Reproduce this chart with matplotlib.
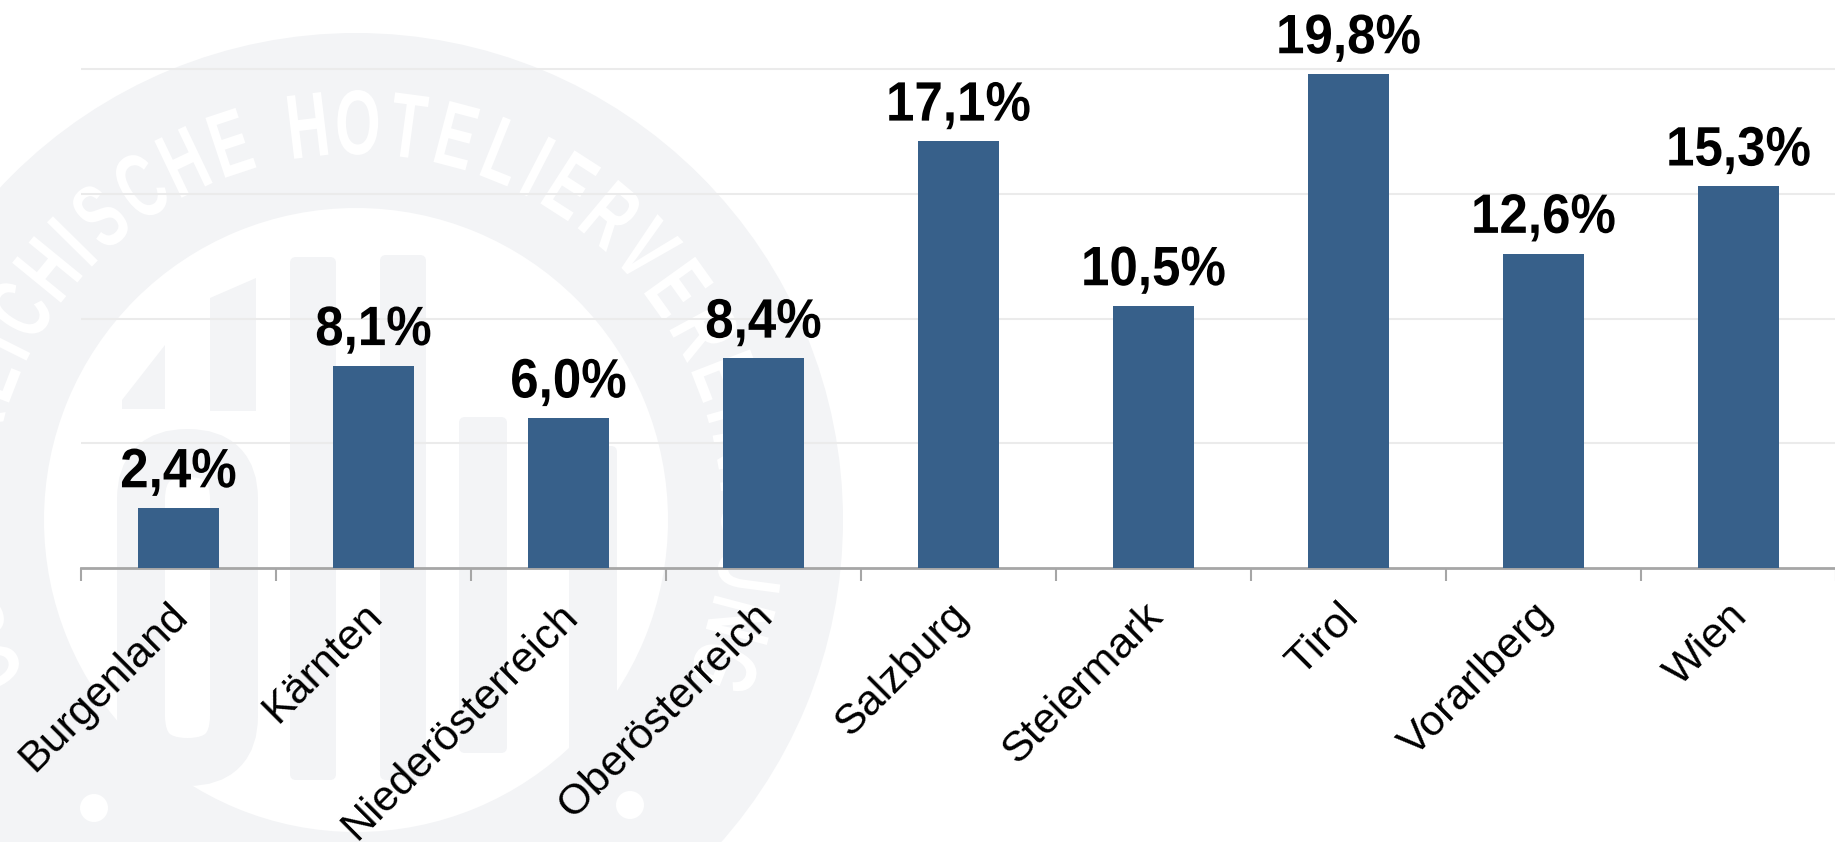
import numpy as np
import matplotlib.pyplot as plt
from matplotlib.patches import Wedge, Circle, Polygon, FancyBboxPatch
from matplotlib.patheffects import AbstractPathEffect
import matplotlib.transforms as mtransforms

# Daten
regionen = ['Burgenland', 'Kärnten', 'Niederösterreich', 'Oberösterreich',
            'Salzburg', 'Steiermark', 'Tirol', 'Vorarlberg', 'Wien']
anteile = [2.4, 8.1, 6.0, 8.4, 17.1, 10.5, 19.8, 12.6, 15.3]

ring_text = 'ÖSTERREICHISCHE HOTELIERVEREINIGUNG'


class Schmal(AbstractPathEffect):
    """Schrift horizontal stauchen (schmale Schrift nachbilden)."""
    def __init__(self, sx):
        super().__init__()
        self.sx = sx

    def draw_path(self, renderer, gc, tpath, affine, rgbFace=None):
        v = tpath.vertices
        if len(v) == 0:
            return
        c = (v[:, 0].min() + v[:, 0].max()) / 2
        squeeze = mtransforms.Affine2D().translate(-c, 0).scale(self.sx, 1).translate(c, 0)
        renderer.draw_path(gc, tpath, squeeze + affine, rgbFace)


plt.rcParams['font.family'] = ['Liberation Sans', 'DejaVu Sans']

W, H = 1835, 842
fig = plt.figure(figsize=(W / 100, H / 100), dpi=100)

# Hintergrund-Wasserzeichen (Pixelkoordinaten)
bg = fig.add_axes([0, 0, 1, 1], zorder=0)
bg.set_xlim(0, W)
bg.set_ylim(H, 0)
bg.axis('off')
wm = '#f3f4f6'
cx, cy = 356, 520
bg.add_patch(Wedge((cx, cy), 487, 0, 360, width=175, color=wm, lw=0))

widths = [0.5 if c == 'I' else (0.6 if c == ' ' else 1.0) for c in ring_text]
step = 7.2
total = sum(widths)
pos = 0.0
for c, w in zip(ring_text, widths):
    mid = pos + w / 2
    theta = 90 - (mid - total / 2) * step
    t = np.radians(theta)
    bg.text(cx + 390 * np.cos(t), cy - 390 * np.sin(t), c, rotation=theta - 90,
            rotation_mode='anchor', ha='center', va='center', color='white',
            fontsize=66, fontweight='bold', path_effects=[Schmal(0.64)])
    pos += w

for dx, dy in [(94, 808), (630, 805)]:
    bg.add_patch(Circle((dx, dy), 14, color='white', lw=0))

# Logo-Formen im Inneren
bg.add_patch(Polygon([(122, 409), (122, 400), (165, 345), (165, 409)], color=wm, lw=0))
bg.add_patch(Polygon([(210, 411), (210, 298), (256, 278), (256, 411)], color=wm, lw=0))
bg.add_patch(FancyBboxPatch((141, 453), 93, 309, boxstyle='round,pad=0,rounding_size=46',
                            fill=False, ec=wm, lw=34.5))
for x0, x1, y0, y1 in [(290, 336, 257, 780), (380, 426, 255, 780),
                       (459, 507, 417, 753), (569, 617, 446, 773)]:
    bg.add_patch(FancyBboxPatch((x0, y0), x1 - x0, y1 - y0,
                                boxstyle='round,pad=0,rounding_size=6', color=wm, lw=0))

# Diagramm
ax = fig.add_axes([81 / W, (H - 568) / H, 1755 / W, 568 / H], zorder=1)
ax.patch.set_alpha(0)
x = np.arange(len(regionen))
ax.bar(x, anteile, width=0.42, color='#37608a', zorder=3)

for xi, v in zip(x, anteile):
    ax.annotate(f'{v:.1f}%'.replace('.', ','), (xi, v), xytext=(0, 15),
                textcoords='offset points', ha='center', va='baseline',
                fontsize=40, fontweight='bold', color='black',
                path_effects=[Schmal(0.92)])

ax.set_xlim(-0.5, len(regionen) - 0.5)
ax.set_ylim(0, 22.77)
ax.set_yticks([5, 10, 15, 20])
ax.yaxis.grid(True, color='#ebebeb', lw=1.5)
ax.tick_params(axis='y', left=False, labelleft=False)
for s in ['left', 'right', 'top']:
    ax.spines[s].set_visible(False)
ax.spines['bottom'].set_color('#a6a6a6')
ax.spines['bottom'].set_linewidth(2)

ax.set_xticks(np.arange(len(regionen) + 1) - 0.5)
ax.set_xticklabels([])
ax.tick_params(axis='x', which='major', length=9.5, width=1.5, color='#a6a6a6')
ax.set_xticks(x, minor=True)
ax.set_xticklabels(regionen, minor=True, rotation=45, ha='right', va='top',
                   rotation_mode='anchor', fontsize=31)
ax.tick_params(axis='x', which='minor', length=0, pad=20)
offset = mtransforms.ScaledTranslation(-11 / 100, 0, fig.dpi_scale_trans)
for lab in ax.get_xticklabels(minor=True):
    lab.set_transform(lab.get_transform() + offset)

fig.savefig('out.png', dpi=100)
